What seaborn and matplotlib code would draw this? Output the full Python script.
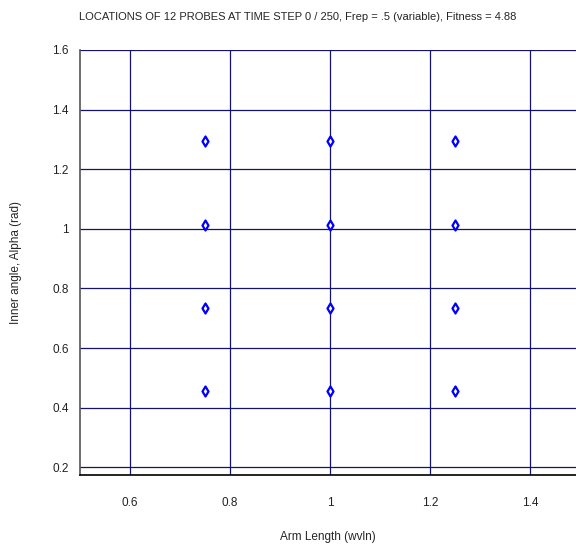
import matplotlib
matplotlib.use("Agg")
import matplotlib.pyplot as plt
import seaborn as sns
import pandas as pd

arm_length = [0.75, 1.0, 1.25]
alpha_vals = [0.456, 0.735, 1.014, 1.294]
x_ticks = [0.6, 0.8, 1.0, 1.2, 1.4]
x_tick_labels = ["0.6", "0.8", "1", "1.2", "1.4"]
y_ticks = [0.2, 0.4, 0.6, 0.8, 1.0, 1.2, 1.4, 1.6]
y_tick_labels = ["0.2", "0.4", "0.6", "0.8", "1", "1.2", "1.4", "1.6"]

probes = pd.DataFrame(
    [(x, y) for x in arm_length for y in alpha_vals],
    columns=["arm", "alpha"],
)

sns.set_style("white")
plt.rcParams["font.family"] = ["Liberation Sans", "DejaVu Sans"]

fig = plt.figure(figsize=(5.76, 5.48), dpi=100)
ax = fig.add_axes([80 / 576, 73 / 548, 496 / 576, 425 / 548])

sns.scatterplot(data=probes, x="arm", y="alpha", ax=ax, marker="d", s=26,
                color="white", edgecolor="#0000ff", linewidth=1.6, zorder=3)

ax.set_xlim(0.5, 1.492)
ax.set_ylim(0.174, 1.6)
ax.set_xticks(x_ticks)
ax.set_xticklabels(x_tick_labels)
ax.set_yticks(y_ticks)
ax.set_yticklabels(y_tick_labels)
ax.grid(True, color="#14146e", linewidth=0.9)
ax.tick_params(axis="both", length=0, labelsize=8.5, colors="#222222")
ax.tick_params(axis="x", pad=16)
ax.tick_params(axis="y", pad=8)

for side in ["top", "right"]:
    ax.spines[side].set_visible(False)
ax.spines["left"].set_color("#555555")
ax.spines["bottom"].set_color("black")
ax.spines["left"].set_linewidth(1.2)
ax.spines["bottom"].set_linewidth(1.2)

ax.set_xlabel("Arm Length (wvln)", fontsize=8.5, labelpad=16)
ax.set_ylabel("Inner angle, Alpha (rad)", fontsize=8.5, labelpad=22)
fig.suptitle("LOCATIONS OF 12 PROBES AT TIME STEP 0 / 250, Frep = .5 (variable), Fitness = 4.88",
             x=0.517, y=0.979, fontsize=8)

fig.savefig("out.png", dpi=100)
